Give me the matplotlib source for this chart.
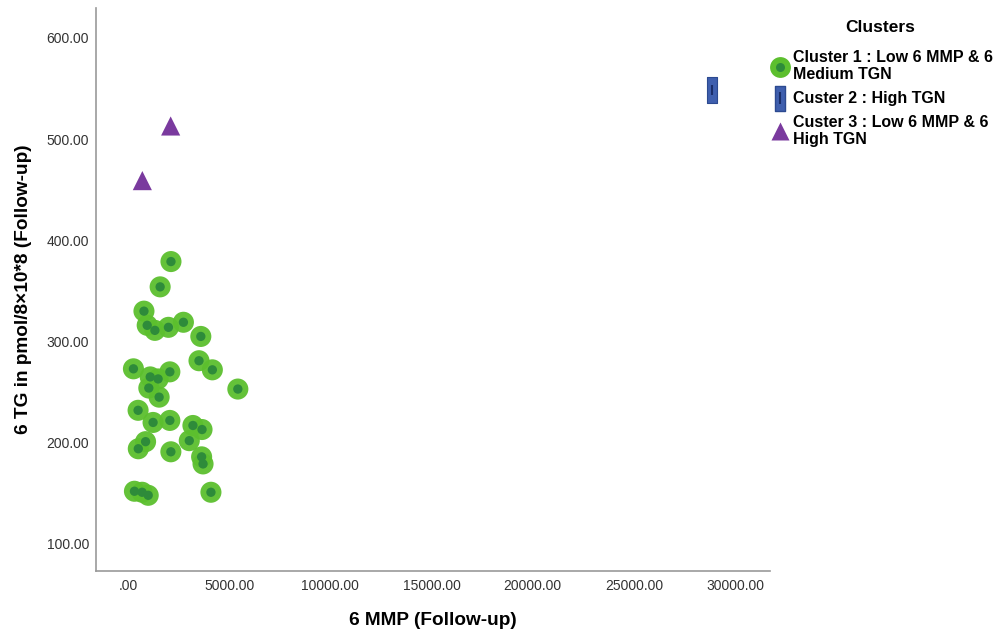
import matplotlib
matplotlib.use("Agg")
import matplotlib.pyplot as plt
from matplotlib.lines import Line2D
from matplotlib.path import Path

plt.rcParams["font.family"] = ["Liberation Sans", "DejaVu Sans"]

# -------------------------------
# Data
# -------------------------------
c1_mmp = [2125, 1590, 790, 950, 1330, 2000, 2740, 3600,
          270, 2070, 1490, 1030, 1540, 3510, 4170, 5430,
          500, 1240, 2070, 3210, 3660, 3030,
          870, 510, 2120, 3640, 3710,
          320, 700, 1000, 4100, 1100]
c1_tg = [379, 354, 330, 316, 311, 314, 319, 305,
         273, 270, 263, 254, 245, 281, 272, 253,
         232, 220, 222, 217, 213, 202,
         201, 194, 191, 186, 179,
         152, 151, 148, 151, 265]

c2_mmp = [28860]
c2_tg = [549]

c3_mmp = [710, 2110]
c3_tg = [459, 513]

labels = ["Cluster 1 : Low 6 MMP & 6\nMedium TGN",
          "Custer 2 : High TGN",
          "Custer 3 : Low 6 MMP & 6\nHigh TGN"]

green_out = "#5cbf2e"
green_in = "#2e8b3a"
blue = "#3f5fae"
blue_dark = "#1a2e6a"
purple = "#7a3a9e"

rect = Path([(-0.4, -1), (0.4, -1), (0.4, 1), (-0.4, 1), (-0.4, -1)],
            [Path.MOVETO, Path.LINETO, Path.LINETO, Path.LINETO, Path.CLOSEPOLY])

# -------------------------------
# Plot
# -------------------------------
fig = plt.figure(figsize=(10, 6.4), dpi=100)
ax = fig.add_axes([0.096, 0.108, 0.674, 0.8795])

ax.scatter(c1_mmp, c1_tg, s=230, color=green_out, edgecolors="none", alpha=0.95, zorder=3)
ax.scatter(c1_mmp, c1_tg, s=45, color=green_in, edgecolors="none", zorder=4)

ax.scatter(c2_mmp, c2_tg, s=330, marker=rect, color=blue, edgecolors="#2c4a90",
           linewidths=0.8, zorder=3)
ax.scatter(c2_mmp, c2_tg, s=60, marker="|", color=blue_dark, linewidths=1.5, zorder=4)

ax.scatter(c3_mmp, c3_tg, s=190, marker="^", color=purple, edgecolors="none", zorder=3)

ax.set_xlim(-1580, 31730)
ax.set_ylim(73.3, 629.6)
ax.set_xticks([0, 5000, 10000, 15000, 20000, 25000, 30000])
ax.set_xticklabels([".00", "5000.00", "10000.00", "15000.00", "20000.00",
                    "25000.00", "30000.00"])
ax.set_yticks([100, 200, 300, 400, 500, 600])
ax.set_yticklabels(["100.00", "200.00", "300.00", "400.00", "500.00", "600.00"])
ax.tick_params(length=0, labelsize=10, labelcolor="#333333")
ax.tick_params(axis="x", pad=6)
ax.tick_params(axis="y", pad=5)

for s in ["top", "right"]:
    ax.spines[s].set_visible(False)
for s in ["left", "bottom"]:
    ax.spines[s].set_color("#999999")
    ax.spines[s].set_linewidth(1.2)

ax.set_xlabel("6 MMP (Follow-up)", fontsize=13.7, fontweight="bold")
ax.set_ylabel("6 TG in pmol/8×10*8 (Follow-up)", fontsize=13.7, fontweight="bold")
ax.xaxis.set_label_coords(0.5, -0.073)
ax.yaxis.set_label_coords(-0.095, 0.5)

# -------------------------------
# Legend
# -------------------------------
h1 = (Line2D([], [], ls="none", marker="o", ms=15, mfc=green_out, mec="none"),
      Line2D([], [], ls="none", marker="o", ms=6.5, mfc=green_in, mec="none"))
h2 = (Line2D([], [], ls="none", marker=rect, ms=18, mfc=blue, mec="#2c4a90"),
      Line2D([], [], ls="none", marker="|", ms=8, mec=blue_dark, mew=1.5))
h3 = Line2D([], [], ls="none", marker="^", ms=13, mfc=purple, mec="none")

leg = fig.legend([h1, h2, h3], labels, loc="upper left", bbox_to_anchor=(0.766, 0.932),
                 frameon=False, handlelength=1.0, handletextpad=0.3, labelspacing=0.55,
                 prop={"size": 11.5, "weight": "bold"}, borderaxespad=0)
fig.text(0.88, 0.957, "Clusters", fontsize=12.5, fontweight="bold", ha="center", va="center")

fig.savefig("out.png", dpi=100)
